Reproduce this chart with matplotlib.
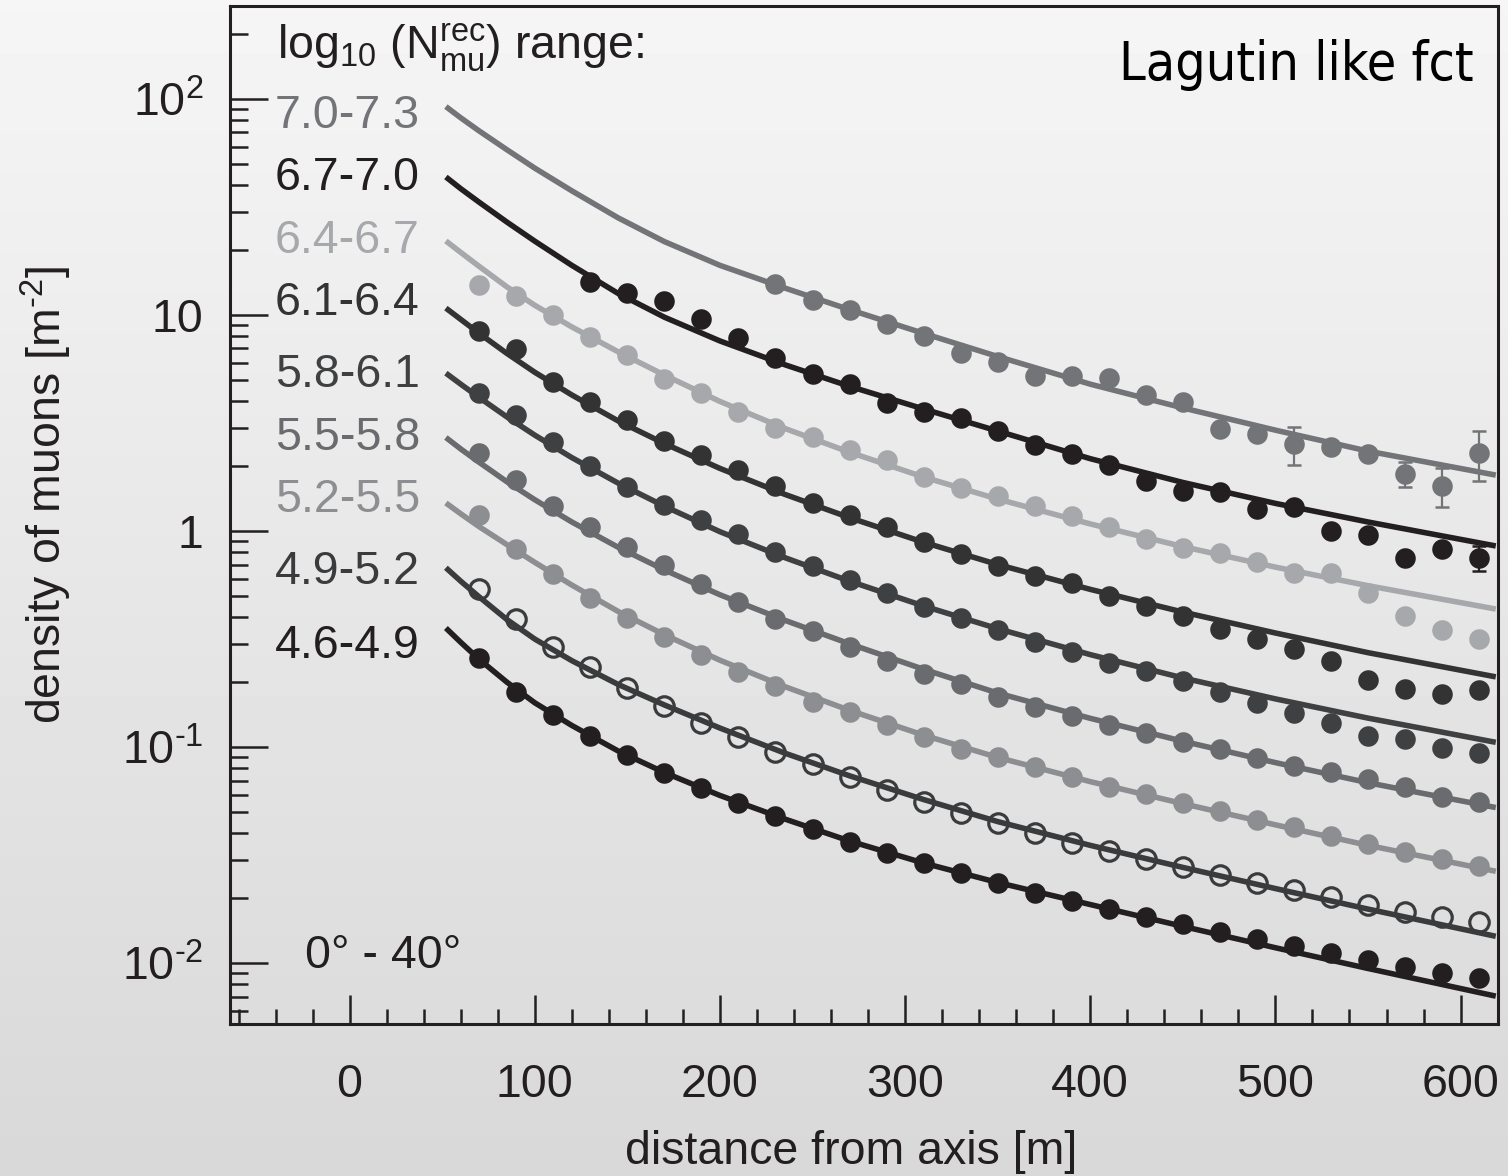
import numpy as np
import matplotlib
matplotlib.use("Agg")
import matplotlib.pyplot as plt
from matplotlib.ticker import FixedLocator, FixedFormatter, NullFormatter, LogLocator

plt.rcParams['font.family'] = ['Liberation Sans', 'DejaVu Sans']
plt.rcParams['mathtext.fontset'] = 'custom'
plt.rcParams['mathtext.rm'] = 'Liberation Sans'
plt.rcParams['mathtext.it'] = 'Liberation Sans'
plt.rcParams['mathtext.bf'] = 'Liberation Sans:bold'
plt.rcParams['mathtext.sf'] = 'Liberation Sans'
plt.rcParams['mathtext.default'] = 'regular'

# ---------------- data ----------------
ranges = ["7.0-7.3", "6.7-7.0", "6.4-6.7", "6.1-6.4", "5.8-6.1",
          "5.5-5.8", "5.2-5.5", "4.9-5.2", "4.6-4.9"]

dist = [70, 90, 110, 130, 150, 170, 190, 210, 230, 250, 270, 290, 310, 330,
        350, 370, 390, 410, 430, 450, 470, 490, 510, 530, 550, 570, 590, 610]
dist_67_70 = [130, 150, 170, 190, 210, 230, 250, 270, 290, 310, 330, 350, 370,
              390, 410, 430, 450, 470, 490, 510, 530, 550, 570, 590, 610]
dist_70_73 = [230, 250, 270, 290, 310, 330, 350, 370, 390, 410, 430, 450, 470,
              490, 510, 530, 550, 570, 590, 610]

rho_70_73 = [13.9, 11.7, 10.5, 9.08, 8.0, 6.67, 6.06, 5.22, 5.22, 5.10, 4.27, 3.95,
             2.97, 2.81, 2.53, 2.45, 2.27, 1.84, 1.62, 2.30]
rho_67_70 = [14.2, 12.6, 11.6, 9.6, 7.83, 6.33, 5.33, 4.80, 3.92, 3.56, 3.35, 2.90,
             2.50, 2.27, 2.02, 1.70, 1.53, 1.52, 1.27, 1.29, 1.00, 0.957, 0.75, 0.83, 0.75]
rho_64_67 = [13.8, 12.2, 10.0, 7.9, 6.53, 5.06, 4.35, 3.56, 3.0, 2.72, 2.37, 2.13, 1.78,
             1.59, 1.45, 1.31, 1.17, 1.04, 0.918, 0.834, 0.79, 0.718, 0.64, 0.64, 0.516,
             0.404, 0.348, 0.316]
rho_61_64 = [8.43, 6.96, 4.90, 3.95, 3.25, 2.61, 2.25, 1.92, 1.62, 1.35, 1.19, 1.04, 0.89,
             0.78, 0.69, 0.62, 0.574, 0.50, 0.45, 0.404, 0.352, 0.316, 0.284, 0.25, 0.204,
             0.186, 0.176, 0.184]
rho_58_61 = [4.35, 3.44, 2.58, 2.00, 1.60, 1.32, 1.12, 0.97, 0.80, 0.69, 0.593, 0.516,
             0.445, 0.395, 0.348, 0.306, 0.275, 0.245, 0.225, 0.202, 0.180, 0.160, 0.144,
             0.129, 0.112, 0.109, 0.099, 0.094]
rho_55_58 = [2.30, 1.72, 1.31, 1.04, 0.843, 0.697, 0.569, 0.469, 0.392, 0.345, 0.290,
             0.250, 0.218, 0.196, 0.170, 0.153, 0.139, 0.127, 0.116, 0.105, 0.098, 0.089,
             0.082, 0.0766, 0.071, 0.0653, 0.0587, 0.0556]
rho_52_55 = [1.19, 0.826, 0.633, 0.490, 0.395, 0.323, 0.267, 0.222, 0.191, 0.161, 0.145,
             0.126, 0.111, 0.098, 0.090, 0.081, 0.0726, 0.0653, 0.0605, 0.055, 0.0506,
             0.046, 0.0426, 0.0387, 0.0356, 0.0327, 0.0303, 0.0281]
rho_49_52 = [0.538, 0.392, 0.290, 0.234, 0.187, 0.155, 0.129, 0.111, 0.0948, 0.0834,
             0.0726, 0.0632, 0.0556, 0.0494, 0.0444, 0.0400, 0.0360, 0.0330, 0.0303,
             0.0278, 0.0255, 0.0234, 0.0218, 0.0202, 0.0186, 0.0172, 0.0163, 0.0155]
rho_46_49 = [0.258, 0.180, 0.141, 0.112, 0.0918, 0.0759, 0.0646, 0.0551, 0.0480, 0.0417,
             0.0363, 0.0323, 0.0290, 0.0261, 0.0234, 0.0211, 0.0194, 0.0178, 0.0163,
             0.0152, 0.0139, 0.0129, 0.0120, 0.0111, 0.0103, 0.00957, 0.00899, 0.00853]

# error bars visible in the picture
err_70_73_x = [510, 570, 590, 610]
err_70_73_y = [2.53, 1.84, 1.62, 2.30]
err_70_73 = [0.50, 0.24, 0.33, 0.60]
err_67_70_x = [610]
err_67_70_y = [0.75]
err_67_70 = [0.10]

# fitted curves: log10(density) read at these distances
fit_dist = [52, 60, 70, 85, 100, 120, 145, 170, 200, 235, 270, 310, 350, 400, 450, 500, 550, 619]
fit_log10_70_73 = [1.965, 1.913, 1.852, 1.765, 1.680, 1.575, 1.450, 1.340, 1.230, 1.125,
                   1.025, 0.915, 0.808, 0.680, 0.570, 0.467, 0.370, 0.259]
fit_log10_67_70 = [1.639, 1.585, 1.522, 1.430, 1.342, 1.230, 1.100, 0.990, 0.880, 0.770,
                   0.670, 0.565, 0.463, 0.335, 0.225, 0.128, 0.042, -0.069]
fit_log10_64_67 = [1.343, 1.290, 1.225, 1.130, 1.045, 0.945, 0.830, 0.722, 0.600, 0.475,
                   0.365, 0.250, 0.148, 0.033, -0.072, -0.167, -0.253, -0.361]
fit_log10_61_64 = [1.032, 0.980, 0.915, 0.822, 0.735, 0.630, 0.510, 0.405, 0.290, 0.170,
                   0.062, -0.052, -0.155, -0.270, -0.375, -0.472, -0.563, -0.675]
fit_log10_58_61 = [0.731, 0.680, 0.618, 0.528, 0.444, 0.340, 0.222, 0.115, -0.003, -0.123,
                   -0.232, -0.347, -0.452, -0.572, -0.680, -0.777, -0.866, -0.978]
fit_log10_55_58 = [0.433, 0.380, 0.318, 0.228, 0.145, 0.042, -0.075, -0.180, -0.295, -0.413,
                   -0.522, -0.640, -0.750, -0.867, -0.973, -1.072, -1.165, -1.280]
fit_log10_52_55 = [0.130, 0.080, 0.020, -0.063, -0.145, -0.250, -0.372, -0.480, -0.598, -0.720,
                   -0.830, -0.945, -1.048, -1.160, -1.262, -1.360, -1.455, -1.575]
fit_log10_49_52 = [-0.170, -0.232, -0.305, -0.410, -0.500, -0.600, -0.710, -0.805, -0.912, -1.028,
                   -1.133, -1.243, -1.345, -1.455, -1.557, -1.655, -1.750, -1.876]
fit_log10_46_49 = [-0.449, -0.515, -0.594, -0.700, -0.795, -0.900, -1.018, -1.118, -1.224, -1.333,
                   -1.435, -1.537, -1.627, -1.729, -1.830, -1.929, -2.025, -2.153]

colors = ['#737477', '#231f20', '#a6a8ab', '#333334', '#3f4042',
          '#6a6b6e', '#8d8e91', '#3a3b3d', '#231f20']

x_ticks = [0, 100, 200, 300, 400, 500, 600]
x_minor = [-60, -40, -20, 20, 40, 60, 80, 120, 140, 160, 180, 220, 240, 260, 280,
           320, 340, 360, 380, 420, 440, 460, 480, 520, 540, 560, 580]
y_ticks = [0.01, 0.1, 1, 10, 100]
y_ticklabels = [r'$10^{\text{-}2}$', r'$10^{\text{-}1}$', '1', '10', r'$10^{2}$']

# ---------------- figure ----------------
W, H = 1508, 1176
fig = plt.figure(figsize=(W / 100, H / 100), dpi=100)

def fx(px):
    return px / W

def fy(py):
    return 1 - py / H

# background gradient
bg = fig.add_axes([0, 0, 1, 1], zorder=0)
grad = np.linspace(0.962, 0.848, 256).reshape(-1, 1)
bg.imshow(grad, aspect='auto', cmap='gray', vmin=0, vmax=1, extent=[0, 1, 0, 1],
          interpolation='bicubic')
bg.set_axis_off()

ax = fig.add_axes([fx(230), fy(1024), fx(1498) - fx(230), fy(6) - fy(1024)], zorder=1)
ax.set_facecolor('none')

INK = '#231f20'

pts = [(dist_70_73, rho_70_73), (dist_67_70, rho_67_70), (dist, rho_64_67),
       (dist, rho_61_64), (dist, rho_58_61), (dist, rho_55_58), (dist, rho_52_55),
       (dist, rho_49_52), (dist, rho_46_49)]
fits = [fit_log10_70_73, fit_log10_67_70, fit_log10_64_67, fit_log10_61_64,
        fit_log10_58_61, fit_log10_55_58, fit_log10_52_55, fit_log10_49_52,
        fit_log10_46_49]

for i, ((xs, ys), fl, c) in enumerate(zip(pts, fits, colors)):
    ax.plot(fit_dist, 10 ** np.array(fl), color=c, lw=4.0, solid_capstyle='butt',
            solid_joinstyle='round', zorder=2)
    if ranges[i] == "4.9-5.2":
        ax.plot(xs, ys, 'o', ms=14, mfc='none', mec=c, mew=2.3, zorder=3)
    else:
        ax.plot(xs, ys, 'o', ms=14.8, mfc=c, mec=c, mew=0, zorder=3)

ax.errorbar(err_70_73_x, err_70_73_y, yerr=err_70_73, fmt='none', ecolor=colors[0],
            elinewidth=1.6, capsize=5, capthick=1.8, zorder=2.5)
ax.errorbar(err_67_70_x, err_67_70_y, yerr=err_67_70, fmt='none', ecolor=colors[1],
            elinewidth=1.6, capsize=5, capthick=1.8, zorder=2.5)

ax.set_xlim(-64.6, 620.2)
ax.set_yscale('log')
ax.set_ylim(10 ** -2.282, 10 ** 2.4306)

ax.xaxis.set_major_locator(FixedLocator(x_ticks))
ax.xaxis.set_minor_locator(FixedLocator(x_minor))
ax.yaxis.set_major_locator(FixedLocator(y_ticks))
ax.yaxis.set_major_formatter(FixedFormatter(y_ticklabels))
ax.yaxis.set_minor_locator(LogLocator(base=10, subs=np.arange(2, 10)))
ax.yaxis.set_minor_formatter(NullFormatter())

for s in ax.spines.values():
    s.set_linewidth(2.2)
    s.set_color(INK)

ax.tick_params(axis='x', which='major', direction='in', length=21, width=1.8,
               color=INK, labelsize=33.5, labelcolor=INK, pad=28)
ax.tick_params(axis='x', which='minor', direction='in', length=11, width=1.8, color=INK)
ax.tick_params(axis='y', which='major', direction='in', length=27, width=1.8,
               color=INK, labelsize=33.5, labelcolor=INK, pad=19)
ax.tick_params(axis='y', which='minor', direction='in', length=13, width=1.8, color=INK)
ax.tick_params(top=False, right=False, which='both')

# axis titles
fig.text(fx(851), fy(1152), 'distance from axis [m]', ha='center', va='center',
         fontsize=33.5, color=INK)
fig.text(fx(46), fy(495), r'density of muons [m$^{\text{-}2}$]', ha='center', va='center',
         rotation=90, fontsize=33.5, color=INK)

# annotations
fig.text(fx(277), fy(59), r'log$_{10}$ (N$^{rec}_{mu}$) range:', ha='left',
         va='baseline', fontsize=33.5, color=INK)
label_baselines = [128, 190, 253, 315, 387, 450, 512, 584, 658]
for r, c, b in zip(ranges, colors, label_baselines):
    fig.text(fx(275), fy(b), r, ha='left', va='baseline', fontsize=33.5, color=c)

fig.text(fx(1474), fy(80), 'Lagutin like fct', ha='right', va='baseline',
         fontsize=38.5, color='black', family=['DejaVu Sans'], fontstretch='condensed')
fig.text(fx(305), fy(968), '0° - 40°', ha='left', va='baseline', fontsize=33.5,
         color=INK)

fig.savefig('out.png', dpi=100)
